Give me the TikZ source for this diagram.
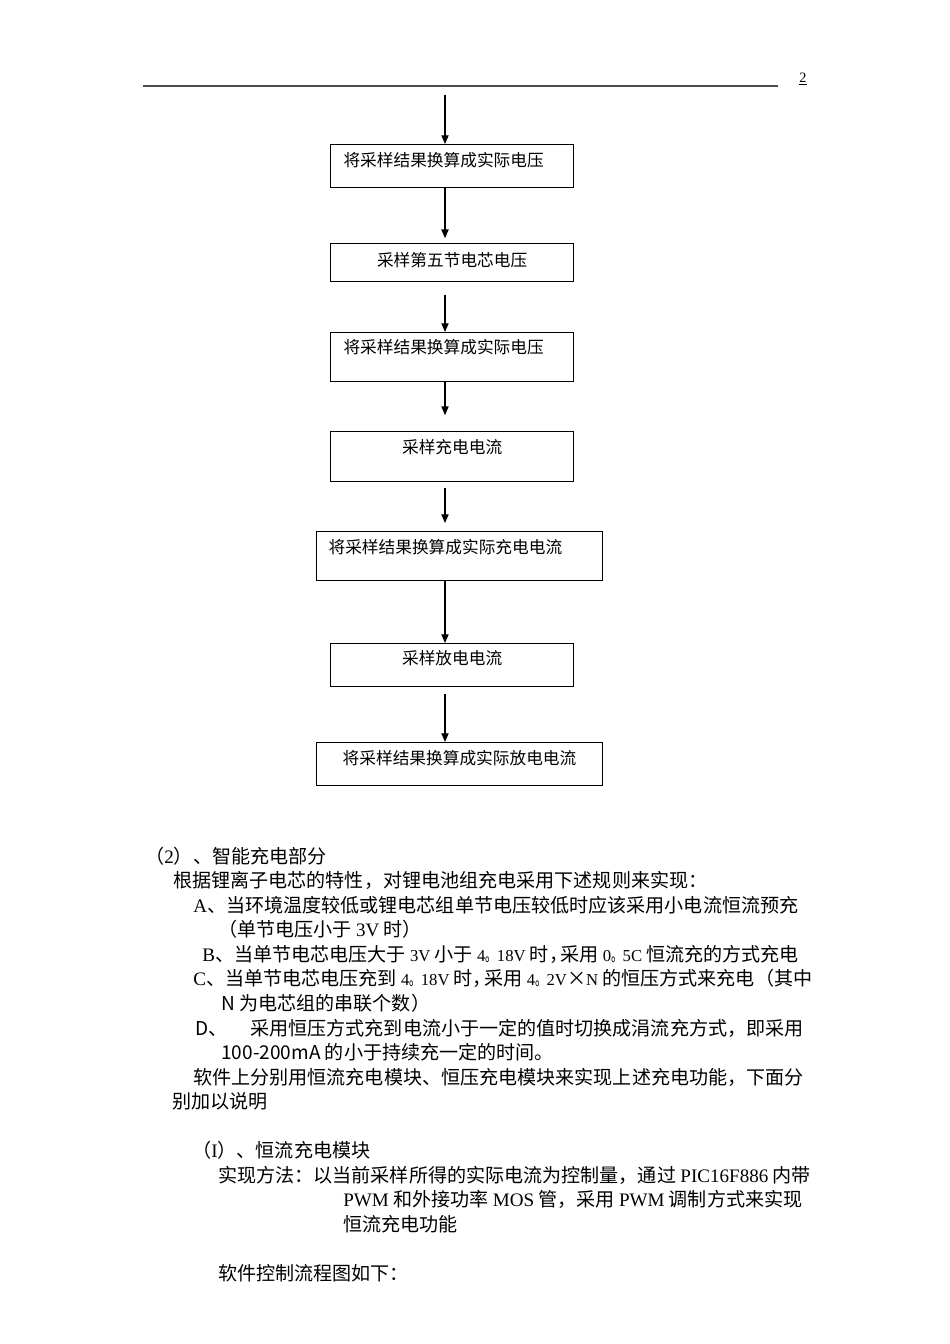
\documentclass[tikz,border=0pt]{standalone}
\usepackage{fontspec}
\usepackage{graphicx}
\setmainfont{Liberation Serif}
\newfontfamily\cjk{Noto Sans CJK SC}
\usetikzlibrary{arrows.meta}
\newcommand\en[1]{{\rmfamily #1}}
\newcommand\sm[1]{{\rmfamily\fontsize{10.5pt}{12pt}\selectfont #1}}
\newcommand\hdot{\scalebox{0.6}[1]{。}}
\newcommand\hcomma{\makebox[0.6em][l]{，}}
\tikzset{
  box/.style={draw, line width=0.8pt, inner ysep=0pt, anchor=north west, font=\cjk\fontsize{10.5pt}{12pt}\selectfont},
  leftbox/.style={box, text width=136.7pt, inner xsep=8.1pt, align=left},
  midbox/.style={box, text width=152.9pt, inner xsep=0pt, align=center},
  txt/.style={anchor=west, inner sep=0pt, font=\cjk\fontsize{12pt}{14pt}\selectfont, text height=10.56pt, text depth=1.44pt},
  flowarrow/.style={-{Triangle[width=4.5pt,length=5.5pt]}, line width=0.8pt}
}
\begin{document}
\begin{tikzpicture}[x=0.0221053cm, y=-0.0221053cm]
		\useasboundingbox (0,0) rectangle (950,1344);
		\draw[line width=0.9pt, black!70] (143,86) -- (778,86);
		\node[anchor=base, inner sep=0pt, font=\fontsize{9pt}{9pt}\selectfont] (page) at (803,82) {\underline{2}};
		
		\coordinate (col) at (445,95);
		\node[leftbox, text height=14pt, text depth=12.9pt] (conv1) at (330,144) {将采样结果换算成实际电压};
		\node[midbox, text height=14.5pt, text depth=9.3pt] (s5) at (330,243) {采样第五节电芯电压};
		\node[leftbox, text height=13.4pt, text depth=17.3pt] (conv2) at (330,332) {将采样结果换算成实际电压};
		\node[midbox, text height=14pt, text depth=17.3pt] (ichg) at (330,431) {采样充电电流};
		\node[box, text width=164.8pt, inner xsep=7.5pt, align=left, text height=14pt, text depth=16.7pt] (convi) at (316,531) {将采样结果换算成实际充电电流};
		\node[midbox, text height=13.4pt, text depth=13.5pt] (idis) at (330,643) {采样放电电流};
		\node[box, text width=179.8pt, inner xsep=0pt, align=center, text height=14pt, text depth=12.9pt] (convd) at (316,742) {将采样结果换算成实际放电电流};
		
		\draw[flowarrow] (col) -- (conv1.north -| col);
		\draw[flowarrow, shorten >=3pt] (conv1.south -| col) -- (s5.north -| col);
		\draw[flowarrow, shorten <=8pt] (s5.south -| col) -- (conv2.north -| col);
		\draw[flowarrow, shorten >=10pt] (conv2.south -| col) -- (ichg.north -| col);
		\draw[flowarrow, shorten <=3.8pt, shorten >=5pt] (ichg.south -| col) -- (convi.north -| col);
		\draw[flowarrow] (convi.south -| col) -- (idis.north -| col);
		\draw[flowarrow, shorten <=4.4pt] (idis.south -| col) -- (convd.north -| col);
		
		\node[txt] (sec) at (145,856) {（\en{2}）、智能充电部分};
		\node[txt] (rule) at (173,880.5) {根据锂离子电芯的特性，对锂电池组充电采用下述规则来实现：};
		\node[txt] (ra) at (193,905) {\en{A}、当环境温度较低或锂电芯组单节电压较低时应该采用小电流恒流预充};
		\node[txt] (ra2) at (218,929.5) {（单节电压小于 \en{3V} 时）};
		\node[txt] (rb) at (202,954) {\en{B}、当单节电芯电压大于 \sm{3V} 小于 \sm{4}\hdot\sm{18V} 时\hcomma 采用 \sm{0}\hdot\sm{5C} 恒流充的方式充电};
		\node[txt] (rc) at (193,978.5) {\en{C}、当单节电芯电压充到 \sm{4}\hdot\sm{18V} 时\hcomma 采用 \sm{4}\hdot\sm{2V}×\sm{N} 的恒压方式来充电（其中};
		\node[txt] (rc2) at (221,1003.5) {N 为电芯组的串联个数）};
		\node[txt] (rd) at (195,1028) {D、\hspace{14.4pt}采用恒压方式充到电流小于一定的值时切换成涓流充方式，即采用};
		\node[txt] (rd2) at (221,1052.5) {100-200mA 的小于持续充一定的时间。};
		\node[txt] (soft) at (193,1077) {软件上分别用恒流充电模块、恒压充电模块来实现上述充电功能，下面分};
		\node[txt] (soft2) at (172,1101.5) {别加以说明};
		\node[txt] (cc) at (192,1150.5) {（\en{I}）、恒流充电模块};
		\node[txt] (impl) at (218,1175) {实现方法：以当前采样所得的实际电流为控制量，通过 \en{PIC16F886} 内带};
		\node[txt] (impl2) at (343,1199.5) {\en{PWM} 和外接功率 \en{MOS} 管，采用 \en{PWM} 调制方式来实现};
		\node[txt] (impl3) at (343,1224) {恒流充电功能};
		\node[txt] (flow) at (218,1273) {软件控制流程图如下：};
		\end{tikzpicture}
\end{document}
